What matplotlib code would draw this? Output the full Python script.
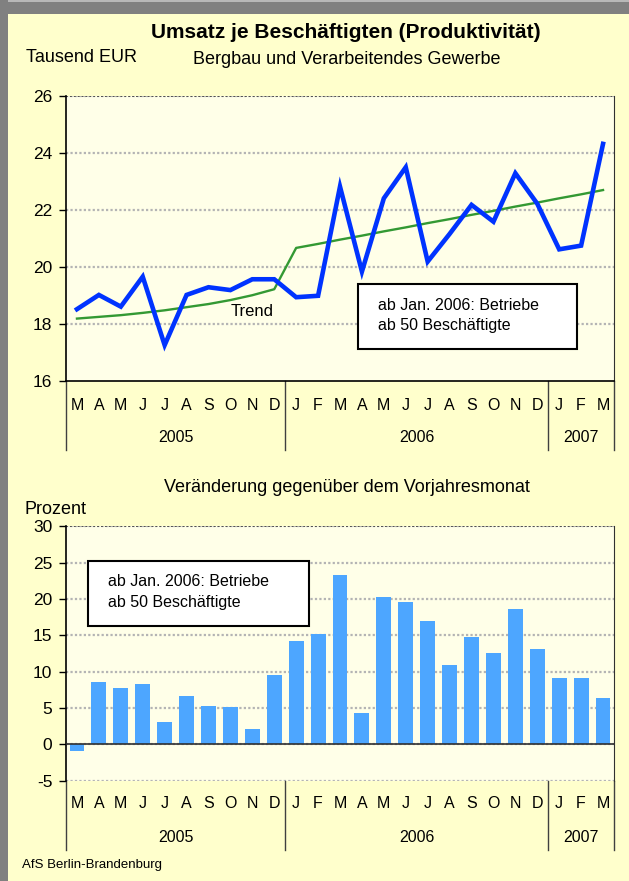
#!/usr/bin/env python3
# -*- coding: utf-8 -*-
"""
Umsatz je Beschaeftigten (Produktivitaet) - Linie mit Trend und Veraenderung zum Vorjahresmonat.
"""
import numpy as np
import matplotlib
matplotlib.use('Agg')
import matplotlib.pyplot as plt
import matplotlib.transforms as mtransforms
from matplotlib.lines import Line2D
from matplotlib.patches import Rectangle

plt.rcParams['font.family'] = ['Liberation Sans', 'DejaVu Sans']

# Monate Maerz 2005 bis Maerz 2007
months = ['M', 'A', 'M', 'J', 'J', 'A', 'S', 'O', 'N', 'D',
          'J', 'F', 'M', 'A', 'M', 'J', 'J', 'A', 'S', 'O', 'N', 'D',
          'J', 'F', 'M']
years = ['2005', '2006', '2007']
year_spans = [(0, 10), (10, 22), (22, 25)]

# Umsatz je Beschaeftigten, Tausend EUR
umsatz = [18.52, 19.02, 18.61, 19.66, 17.26, 19.02, 19.29, 19.19, 19.57, 19.57,
          18.94, 18.99, 22.82, 19.84, 22.41, 23.50, 20.19, 21.16, 22.18, 21.59,
          23.29, 22.22, 20.62, 20.75, 24.32]
trend = [18.19, 18.25, 18.31, 18.39, 18.48, 18.59, 18.70, 18.84, 19.01, 19.22,
         20.67, 20.81, 20.96, 21.10, 21.25, 21.39, 21.54, 21.68, 21.83, 21.97,
         22.12, 22.26, 22.41, 22.55, 22.70]

# Veraenderung gegenueber dem Vorjahresmonat, Prozent
veraenderung = [-0.9, 8.6, 7.8, 8.3, 3.1, 6.7, 5.3, 5.1, 2.1, 9.5,
                14.2, 15.2, 23.3, 4.3, 20.3, 19.6, 17.0, 10.9, 14.8, 12.6,
                18.6, 13.1, 9.1, 9.1, 6.4]

W, H = 629, 881
fig = plt.figure(figsize=(W / 100, H / 100), dpi=100)
fig.patch.set_facecolor('#ffffcc')

# grauer Rahmen oben und links
fig.patches.append(Rectangle((0, 1 - 14 / H), 1, 14 / H, transform=fig.transFigure,
                             facecolor='#808080', edgecolor='none', zorder=0))
fig.patches.append(Rectangle((0, 1 - 2 / H), 1, 2 / H, transform=fig.transFigure,
                             facecolor='#b8b8b8', edgecolor='none', zorder=0))
fig.patches.append(Rectangle((0, 0), 8 / W, 1, transform=fig.transFigure,
                             facecolor='#808080', edgecolor='none', zorder=0))

x = np.arange(len(months))
grid_kw = dict(color='#b4b4b4', linestyle=(0, (1, 1)), linewidth=1.6, zorder=1)


def px(v):
    return 1 - v / H


def setup_axes(ax, ylim, yticks):
    ax.set_facecolor('#ffffe8')
    ax.set_xlim(-0.5, len(months) - 0.5)
    ax.set_ylim(*ylim)
    ax.set_yticks(yticks)
    ax.set_yticklabels([str(t) for t in yticks], fontsize=12.5)
    ax.set_xticks([])
    ax.tick_params(axis='y', direction='out', length=4.8, width=1, pad=5)
    for t in yticks[1:]:
        ax.axhline(t, **grid_kw)
    ax.spines['left'].set_linewidth(1.2)
    ax.spines['right'].set_color('#303030')
    ax.spines['top'].set_visible(False)
    ax.axhline(yticks[-1], color='#505050', linestyle=(0, (1, 1)), linewidth=1.4, zorder=1)


def category_labels(ax, axis_y, month_y, year_y, sep_bottom):
    trans = mtransforms.blended_transform_factory(ax.transData, fig.transFigure)
    for i, m in enumerate(months):
        ax.text(x[i], px(month_y), m, transform=trans, ha='center', va='center',
                fontsize=11.5, clip_on=False)
    for yr, (a, b) in zip(years, year_spans):
        ax.text((a + b - 1) / 2, px(year_y), yr, transform=trans, ha='center',
                va='center', fontsize=11.5, clip_on=False)
    for s in [0, 10, 22, 25]:
        ax.add_line(Line2D([s - 0.5, s - 0.5], [px(axis_y), px(sep_bottom)],
                           transform=trans, color='#404040', linewidth=1, clip_on=False))


def note_box(ax_x, ax_y, w, h, tx, ty):
    fig.patches.append(Rectangle((ax_x / W, px(ax_y + h)), w / W, h / H,
                                 transform=fig.transFigure, facecolor='white',
                                 edgecolor='black', linewidth=1.5, zorder=5))
    fig.text(tx / W, px(ty), 'ab Jan. 2006: Betriebe', fontsize=11.5, va='center', zorder=6)
    fig.text(tx / W, px(ty + 21), 'ab 50 Beschäftigte', fontsize=11.5, va='center', zorder=6)


# --- oberes Diagramm ---
ax1 = fig.add_axes([66 / W, px(381), 548 / W, 285 / H])
setup_axes(ax1, (16, 26), [16, 18, 20, 22, 24, 26])
ax1.spines['bottom'].set_linewidth(1.2)
ax1.plot(x, trend, color='#339933', linewidth=1.7, zorder=3)
ax1.plot(x, umsatz, color='#0033ff', linewidth=3.3, zorder=4,
         solid_joinstyle='miter')
ax1.text(8.0, 18.45, 'Trend', fontsize=12, ha='center', va='center')
category_labels(ax1, 381, 406, 438, 450)

fig.text(346 / W, px(33), 'Umsatz je Beschäftigten (Produktivität)', fontsize=15,
         fontweight='bold', ha='center', va='center')
fig.text(26 / W, px(57), 'Tausend EUR', fontsize=13, ha='left', va='center')
fig.text(347 / W, px(60), 'Bergbau und Verarbeitendes Gewerbe', fontsize=13,
         ha='center', va='center')
note_box(358, 284, 219, 65, 378, 305)

# --- unteres Diagramm ---
ax2 = fig.add_axes([66 / W, px(780.7), 548 / W, 254.4 / H])
setup_axes(ax2, (-5, 30), [-5, 0, 5, 10, 15, 20, 25, 30])
ax2.axhline(-5, **grid_kw)
ax2.spines['bottom'].set_visible(False)
ax2.axhline(0, color='#303030', linewidth=1.2, zorder=3)
ax2.bar(x, veraenderung, width=0.68, color='#4da6ff', zorder=2)
category_labels(ax2, 780.7, 803, 837, 850)

fig.text(347 / W, px(488), 'Veränderung gegenüber dem Vorjahresmonat', fontsize=13,
         ha='center', va='center')
fig.text(25 / W, px(509), 'Prozent', fontsize=13, ha='left', va='center')
note_box(88, 561, 221, 65, 108, 582)

fig.text(22 / W, px(865), 'AfS Berlin-Brandenburg', fontsize=9.5, ha='left', va='center')

fig.savefig('out.png', dpi=100, facecolor=fig.get_facecolor())
